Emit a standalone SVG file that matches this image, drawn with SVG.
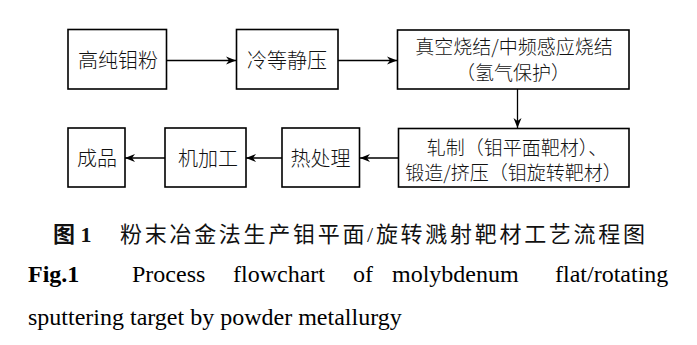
<svg xmlns="http://www.w3.org/2000/svg" width="697" height="345" viewBox="0 0 697 345">
<style>
.box{fill:#fff;stroke:#000;stroke-width:1.6}
.t{font-family:"Noto Sans CJK SC",sans-serif;font-size:20px;font-weight:300;fill:#111;text-anchor:middle}
.s{font-size:19px}
.cn{font-family:"Liberation Serif","Noto Sans CJK SC",serif;font-size:22px;fill:#111}
.en{font-family:"Liberation Serif",serif;font-size:24px;fill:#000}
.c{stroke:#000;stroke-width:1.3;fill:none}
</style>
<defs>
<marker id="ah" viewBox="0 0 10 10" refX="10" refY="5" markerWidth="10" markerHeight="10" markerUnits="userSpaceOnUse" orient="auto">
<path d="M0,1 L10,5 L0,9 L3,5 Z" fill="#000"/>
</marker>
</defs>
<g id="connectors">
<line class="c" x1="167" y1="60.5" x2="236" y2="60.5" marker-end="url(#ah)"/>
<line class="c" x1="338" y1="60.5" x2="397" y2="60.5" marker-end="url(#ah)"/>
<line class="c" x1="517.5" y1="89" x2="517.5" y2="128" marker-end="url(#ah)"/>
<line class="c" x1="398" y1="158" x2="360" y2="158" marker-end="url(#ah)"/>
<line class="c" x1="282" y1="158" x2="246" y2="158" marker-end="url(#ah)"/>
<line class="c" x1="165" y1="158" x2="125" y2="158" marker-end="url(#ah)"/>
</g>
<g id="n1"><rect class="box" x="68" y="29.5" width="98.5" height="59.5"/><text class="t" x="118" y="68">高纯钼粉</text></g>
<g id="n2"><rect class="box" x="236.5" y="29.5" width="101.5" height="59.5"/><text class="t" x="287" y="68">冷等静压</text></g>
<g id="n3"><rect class="box" x="397.5" y="30" width="231.5" height="59"/><text class="t s"><tspan x="514" y="54">真空烧结/中频感应烧结</tspan><tspan x="513" y="80">（氢气保护）</tspan></text></g>
<g id="n4"><rect class="box" x="398.5" y="128.5" width="230.5" height="58.5"/><text class="t s"><tspan x="517" y="155">轧制（钼平面靶材）、</tspan><tspan x="513.5" y="180">锻造/挤压（钼旋转靶材）</tspan></text></g>
<g id="n5"><rect class="box" x="282" y="128" width="77.5" height="59"/><text class="t" x="320.5" y="166">热处理</text></g>
<g id="n6"><rect class="box" x="165" y="128" width="81" height="59"/><text class="t" x="208" y="166">机加工</text></g>
<g id="n7"><rect class="box" x="68" y="128" width="57" height="59"/><text class="t" x="97" y="166">成品</text></g>
<text class="cn" x="53" y="242" font-weight="bold">图 <tspan font-family="Liberation Serif">1</tspan></text>
<text class="cn" x="120" y="242" textLength="525" lengthAdjust="spacing">粉末冶金法生产钼平面/旋转溅射靶材工艺流程图</text>
<text class="en" x="28" y="282" font-weight="bold">Fig.1</text>
<text class="en" x="132" y="282">Process</text>
<text class="en" x="233" y="282">flowchart</text>
<text class="en" x="353" y="282">of</text>
<text class="en" x="392" y="282">molybdenum</text>
<text class="en" x="555" y="282">flat/rotating</text>
<text class="en" x="28" y="325">sputtering target by powder metallurgy</text>
</svg>
